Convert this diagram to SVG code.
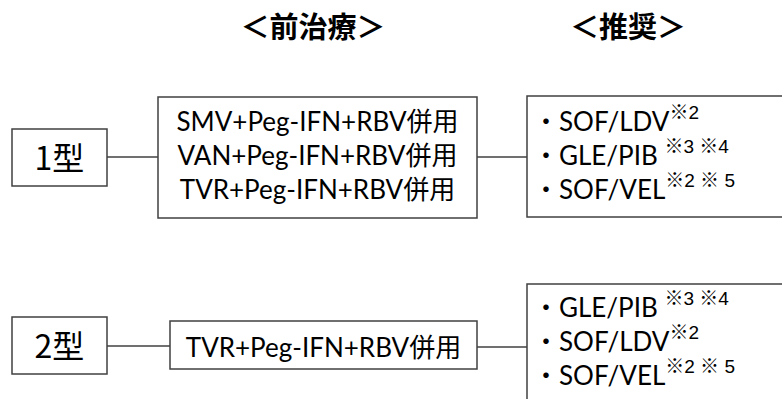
<svg xmlns="http://www.w3.org/2000/svg" width="782" height="399" viewBox="0 0 782 399">
<style>
text{font-family:"Noto Sans CJK JP","Liberation Sans",sans-serif;fill:#000}
.h{font-size:29px;font-weight:bold;text-anchor:middle}
.n{font-size:32px;text-anchor:middle}
.t{font-size:26px;font-family:Lato,"Noto Sans CJK JP",sans-serif}
.m{text-anchor:middle}
.s{font-size:19px;font-family:"Liberation Sans","Noto Sans CJK JP",sans-serif}
.box{fill:#fff;stroke:#404040;stroke-width:1.5}
.c{stroke:#404040;stroke-width:1.5;fill:none}
</style>
<rect width="782" height="399" fill="#fff"/>
<g id="headers">
<text class="h" x="313" y="38">＜前治療＞</text>
<text class="h" x="628" y="38">＜推奨＞</text>
</g>
<g id="connectors">
<line class="c" x1="107" y1="157" x2="158" y2="157"/>
<line class="c" x1="477" y1="157" x2="527" y2="157"/>
<line class="c" x1="107" y1="346" x2="170" y2="346"/>
<line class="c" x1="477" y1="347" x2="527" y2="347"/>
</g>
<g id="type1">
<rect class="box" x="12" y="129" width="95" height="57"/>
<text class="n" x="59.5" y="170">1型</text>
</g>
<g id="prior1">
<rect class="box" x="158" y="97" width="319" height="121"/>
<text class="t m"><tspan x="317.5" y="131">SMV+Peg-IFN+RBV併用</tspan><tspan x="317.5" y="165">VAN+Peg-IFN+RBV併用</tspan><tspan x="317.5" y="199">TVR+Peg-IFN+RBV併用</tspan></text>
</g>
<g id="rec1">
<rect class="box" x="527" y="96" width="280" height="121"/>
<text class="t"><tspan x="533" y="131">・SOF/LDV</tspan><tspan class="s" dy="-12">※2</tspan><tspan x="533" y="165">・GLE/PIB </tspan><tspan class="s" dy="-12">※3 ※4</tspan><tspan x="533" y="199">・SOF/VEL</tspan><tspan class="s" dy="-12">※2 ※ 5</tspan></text>
</g>
<g id="type2">
<rect class="box" x="12" y="317" width="95" height="57"/>
<text class="n" x="59.5" y="358">2型</text>
</g>
<g id="prior2">
<rect class="box" x="170" y="321" width="307" height="48"/>
<text class="t m" x="323.5" y="357">TVR+Peg-IFN+RBV併用</text>
</g>
<g id="rec2">
<rect class="box" x="527" y="284" width="280" height="140"/>
<text class="t"><tspan x="533" y="317">・GLE/PIB </tspan><tspan class="s" dy="-12">※3 ※4</tspan><tspan x="533" y="351">・SOF/LDV</tspan><tspan class="s" dy="-12">※2</tspan><tspan x="533" y="385">・SOF/VEL</tspan><tspan class="s" dy="-12">※2 ※ 5</tspan></text>
</g>
</svg>
